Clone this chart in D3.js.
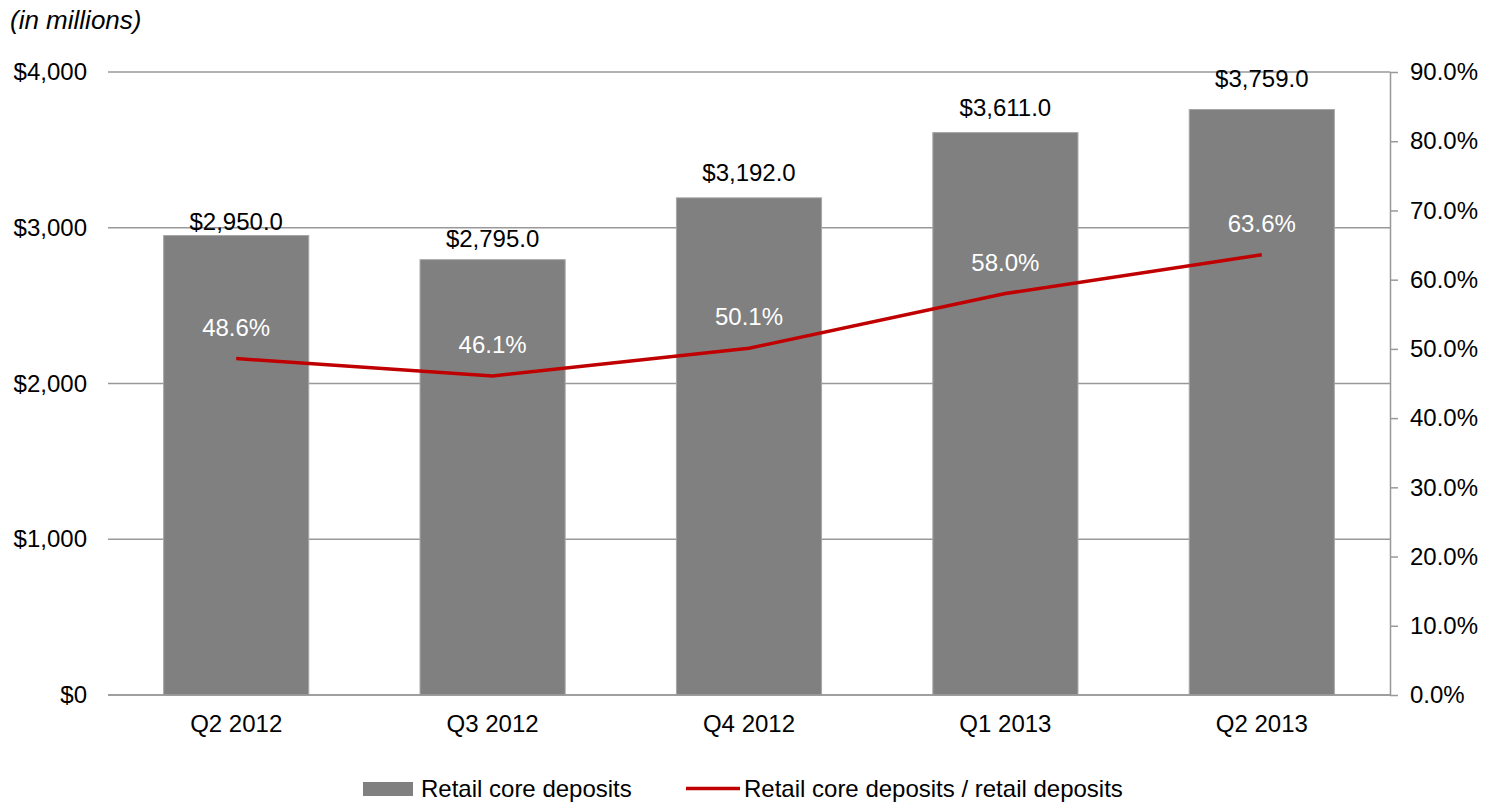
<!DOCTYPE html>
<html>
<head>
<meta charset="utf-8">
<script src="https://cdn.jsdelivr.net/npm/d3@7"></script>
<style>
  html, body { margin: 0; padding: 0; background: #fff; }
  svg text { font-family: "Liberation Sans", Arial, sans-serif; }
</style>
</head>
<body>
<svg id="chart" width="1485" height="802"></svg>
<script>
// Quarterly retail core deposits ($ millions) and their share of retail deposits (%)
const quarters = ["Q2 2012", "Q3 2012", "Q4 2012", "Q1 2013", "Q2 2013"];
const coreDeposits = [2950.0, 2795.0, 3192.0, 3611.0, 3759.0];
const coreShare = [48.6, 46.1, 50.1, 58.0, 63.6];
const leftTicks = [0, 1000, 2000, 3000, 4000];
const rightTicks = [0, 10, 20, 30, 40, 50, 60, 70, 80, 90];
const legendLabels = ["Retail core deposits", "Retail core deposits / retail deposits"];

// Layout: distance (px) from each bar top to its value label baseline
const barLabelGap = [6, 13, 16.5, 16.5, 23];

const FS = 24;
const svg = d3.select("#chart");
const m = { left: 108, right: 1390, top: 72, bottom: 695 };

const x = d3.scaleBand().domain(quarters).range([m.left, m.right]).paddingInner(0.434).paddingOuter(0.217);
const yL = d3.scaleLinear().domain([0, 4000]).range([m.bottom, m.top]);
const yR = d3.scaleLinear().domain([0, 90]).range([m.bottom, m.top]);

const fmtMoney = d3.format("$,.0f");
const fmtMoney1 = v => "$" + d3.format(",.1f")(v);
const fmtPct = v => d3.format(".1f")(v) + "%";

// Horizontal gridlines from the left scale
svg.append("g")
  .selectAll("line")
  .data(leftTicks)
  .join("line")
  .attr("x1", m.left).attr("x2", m.right)
  .attr("y1", d => yL(d)).attr("y2", d => yL(d))
  .attr("stroke", "#999").attr("stroke-width", 1.5);

// Left axis labels
const gL = svg.append("g").attr("transform", `translate(${m.left},0)`)
  .call(d3.axisLeft(yL).tickValues(leftTicks).tickFormat(fmtMoney).tickSize(0).tickPadding(21));
gL.select(".domain").remove();
gL.selectAll("text").attr("font-size", FS).attr("fill", "#000")
  .attr("font-family", "Liberation Sans, Arial, sans-serif");

// Right axis with outward ticks
const gR = svg.append("g").attr("transform", `translate(${m.right},0)`)
  .call(d3.axisRight(yR).tickValues(rightTicks).tickFormat(fmtPct).tickSizeInner(8).tickSizeOuter(0).tickPadding(12));
gR.select(".domain").attr("stroke", "#999").attr("stroke-width", 1.5);
gR.selectAll(".tick line").attr("stroke", "#999").attr("stroke-width", 1.5);
gR.selectAll("text").attr("font-size", FS).attr("fill", "#000")
  .attr("font-family", "Liberation Sans, Arial, sans-serif");

// Bars
svg.append("g")
  .selectAll("rect")
  .data(quarters)
  .join("rect")
  .attr("x", d => x(d))
  .attr("width", x.bandwidth())
  .attr("y", (d, i) => yL(coreDeposits[i]))
  .attr("height", (d, i) => yL(0) - yL(coreDeposits[i]))
  .attr("fill", "#808080")
  .attr("stroke", "#a6a6a6").attr("stroke-width", 1);

// Baseline
svg.append("line")
  .attr("x1", m.left).attr("x2", m.right)
  .attr("y1", yL(0)).attr("y2", yL(0))
  .attr("stroke", "#999").attr("stroke-width", 1.5);

// Category labels
svg.append("g")
  .selectAll("text")
  .data(quarters)
  .join("text")
  .attr("x", d => x(d) + x.bandwidth() / 2)
  .attr("y", 732)
  .attr("text-anchor", "middle")
  .attr("font-size", FS)
  .text(d => d);

// Bar value labels
svg.append("g")
  .selectAll("text")
  .data(quarters)
  .join("text")
  .attr("x", d => x(d) + x.bandwidth() / 2)
  .attr("y", (d, i) => yL(coreDeposits[i]) - barLabelGap[i])
  .attr("text-anchor", "middle")
  .attr("font-size", FS)
  .attr("fill", "#000")
  .text((d, i) => fmtMoney1(coreDeposits[i]));

// Share line
const line = d3.line()
  .x((d, i) => x(quarters[i]) + x.bandwidth() / 2)
  .y(d => yR(d));
svg.append("path")
  .datum(coreShare)
  .attr("d", line)
  .attr("fill", "none")
  .attr("stroke", "#C00000")
  .attr("stroke-width", 3.5);

// Share labels
svg.append("g")
  .selectAll("text")
  .data(coreShare)
  .join("text")
  .attr("x", (d, i) => x(quarters[i]) + x.bandwidth() / 2)
  .attr("y", d => yR(d) - 23)
  .attr("text-anchor", "middle")
  .attr("font-size", FS)
  .attr("fill", "#fff")
  .text(d => fmtPct(d));

// Unit note
svg.append("text")
  .attr("x", 10).attr("y", 29)
  .attr("font-size", 26)
  .attr("font-style", "italic")
  .text("(in millions)");

// Legend
const lg = svg.append("g");
lg.append("rect").attr("x", 363).attr("y", 782).attr("width", 50).attr("height", 14).attr("fill", "#808080");
lg.append("text").attr("x", 421).attr("y", 797).attr("font-size", FS).text(legendLabels[0]);
lg.append("line").attr("x1", 686).attr("x2", 740).attr("y1", 788.5).attr("y2", 788.5)
  .attr("stroke", "#C00000").attr("stroke-width", 3.5);
lg.append("text").attr("x", 744).attr("y", 797).attr("font-size", FS).text(legendLabels[1]);
</script>
</body>
</html>
